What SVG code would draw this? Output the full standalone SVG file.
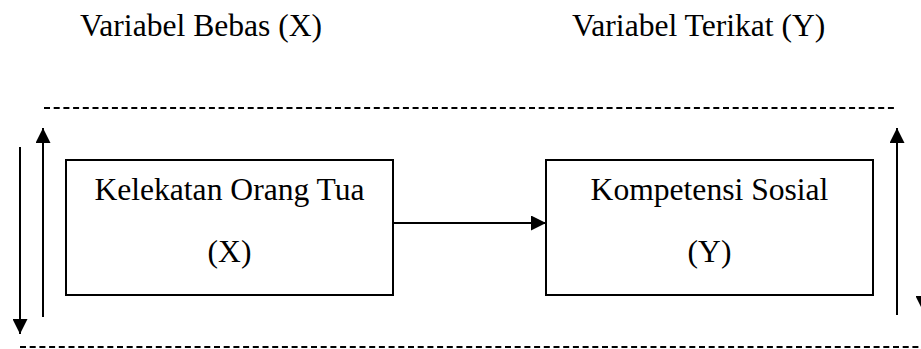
<svg xmlns="http://www.w3.org/2000/svg" width="921" height="349" viewBox="0 0 921 349">
  <style>
    .lbl { font-family: "Liberation Serif", "Times New Roman", serif; font-size: 31.6px; fill: #000; }
    .box { fill: #fff; stroke: #000; stroke-width: 2; }
    .ln { stroke: #000; stroke-width: 2; fill: none; }
    .dash { stroke: #000; stroke-width: 2; stroke-dasharray: 6 3.7; fill: none; }
  </style>
  <defs>
    <marker id="head" viewBox="0 0 15 15" refX="15" refY="7.5" markerWidth="15" markerHeight="15" markerUnits="userSpaceOnUse" orient="auto">
      <path d="M0,0 L15,7.5 L0,15 Z" fill="#000"/>
    </marker>
  </defs>

  <rect width="921" height="349" fill="#fff"/>

  <!-- column headings -->
  <text class="lbl" x="80" y="36">Variabel Bebas (X)</text>
  <text class="lbl" x="572" y="36">Variabel Terikat (Y)</text>

  <!-- boundary lines -->
  <line class="dash" x1="44" y1="108" x2="896" y2="108"/>
  <line class="dash" x1="20" y1="347" x2="921" y2="347"/>

  <g id="node-x">
    <rect class="box" x="66" y="160" width="327" height="135"/>
    <text class="lbl" x="229.5" y="200" text-anchor="middle">Kelekatan Orang Tua</text>
    <text class="lbl" x="229.5" y="262" text-anchor="middle">(X)</text>
  </g>

  <g id="node-y">
    <rect class="box" x="546" y="160" width="327" height="135"/>
    <text class="lbl" x="709.5" y="200" text-anchor="middle">Kompetensi Sosial</text>
    <text class="lbl" x="709.5" y="262" text-anchor="middle">(Y)</text>
  </g>

  <g id="connectors">
    <line class="ln" x1="393" y1="223" x2="546" y2="223" marker-end="url(#head)"/>
    <line class="ln" x1="20" y1="147" x2="20" y2="334" marker-end="url(#head)"/>
    <line class="ln" x1="43" y1="317" x2="43" y2="128" marker-end="url(#head)"/>
    <line class="ln" x1="897" y1="315" x2="897" y2="128" marker-end="url(#head)"/>
    <line class="ln" x1="923" y1="140" x2="923" y2="311" marker-end="url(#head)"/>
  </g>
</svg>
